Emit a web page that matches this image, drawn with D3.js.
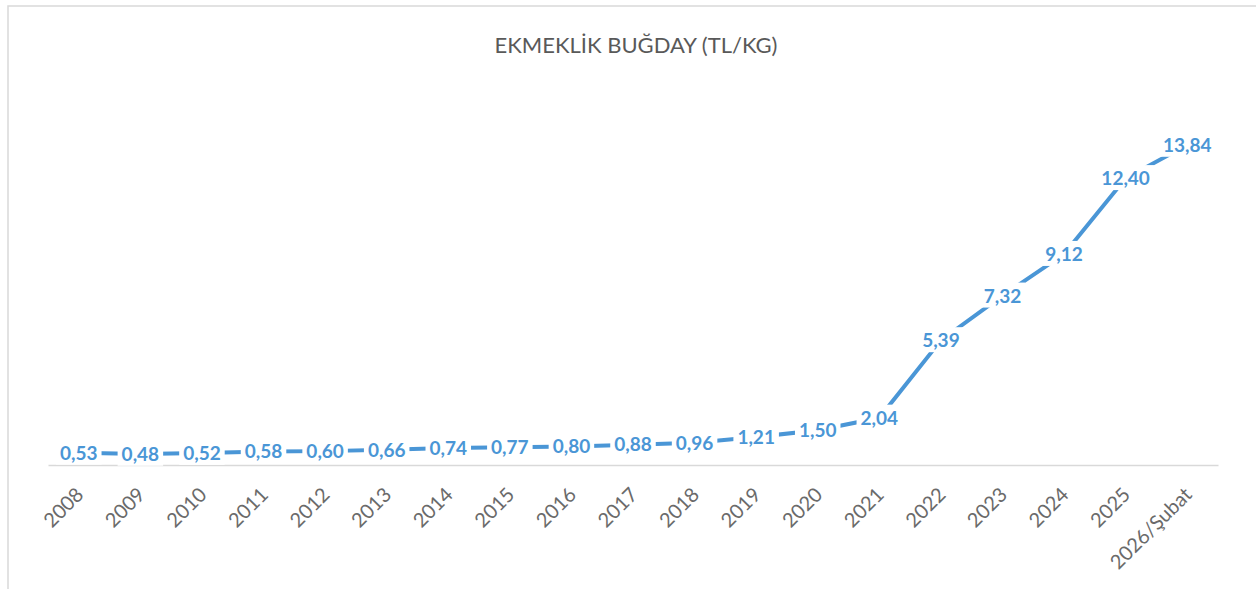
<!DOCTYPE html>
<html>
<head>
<meta charset="utf-8">
<script src="https://cdn.jsdelivr.net/npm/d3@7"></script>
<style>
  body { margin: 0; background: #fff; }
  svg { display: block; }
</style>
</head>
<body>
<svg id="chart" width="1256" height="589"></svg>
<script>
// data
var categories = ["2008", "2009", "2010", "2011", "2012", "2013", "2014", "2015", "2016", "2017",
  "2018", "2019", "2020", "2021", "2022", "2023", "2024", "2025", "2026/Şubat"];
var values = [0.53, 0.48, 0.52, 0.58, 0.60, 0.66, 0.74, 0.77, 0.80, 0.88,
  0.96, 1.21, 1.50, 2.04, 5.39, 7.32, 9.12, 12.40, 13.84];
var yDomain = [0, 16];
var title = "EKMEKLİK BUĞDAY (TL/KG)";

var blue = "#4a96d6";
var svg = d3.select("#chart");

// chart frame
svg.append("rect")
  .attr("x", 8).attr("y", 6)
  .attr("width", 1260).attr("height", 600)
  .attr("fill", "#fff")
  .attr("stroke", "#d9d9d9")
  .attr("stroke-width", 1.5);

svg.append("text")
  .attr("x", 636).attr("y", 53)
  .attr("text-anchor", "middle")
  .attr("font-family", "Lato")
  .attr("font-size", 22)
  .attr("fill", "#595959")
  .text(title);

var x = d3.scaleBand()
  .domain(categories)
  .range([48, 1218]);

var y = d3.scaleLinear()
  .domain(yDomain)
  .range([465, 95]);

function cx(d) { return x(d) + x.bandwidth() / 2; }

// x axis
var xAxis = svg.append("g")
  .attr("transform", "translate(0," + y(0) + ")")
  .call(d3.axisBottom(x).tickSize(0).tickPadding(0));
xAxis.select(".domain").attr("stroke", "#d9d9d9").attr("stroke-width", 1.5);
xAxis.selectAll("text")
  .attr("font-family", "Lato")
  .attr("font-size", 20)
  .attr("fill", "#6a6a6a")
  .attr("text-anchor", "end")
  .attr("dy", "0.35em")
  .attr("transform", "translate(1,26) rotate(-45)")
  .attr("x", 0).attr("y", 0);

// line
var line = d3.line()
  .x(function(d, i) { return cx(categories[i]); })
  .y(function(d) { return y(d); });

svg.append("path")
  .datum(values)
  .attr("d", line)
  .attr("fill", "none")
  .attr("stroke", blue)
  .attr("stroke-width", 4);

// data labels with white boxes
var lab = svg.selectAll(".lab")
  .data(values)
  .enter().append("g")
  .attr("class", "lab")
  .attr("transform", function(d, i) {
    return "translate(" + cx(categories[i]) + "," + y(d) + ")";
  });

lab.append("text")
  .attr("text-anchor", "middle")
  .attr("dy", "0.36em")
  .attr("font-family", "Lato")
  .attr("font-weight", "bold")
  .attr("font-size", 19)
  .attr("fill", blue)
  .text(function(d) { return d.toFixed(2).replace(".", ","); });

lab.each(function() {
  var g = d3.select(this);
  var bb = g.select("text").node().getBBox();
  g.insert("rect", "text")
    .attr("x", bb.x - 4).attr("y", bb.y - 1)
    .attr("width", bb.width + 8).attr("height", bb.height + 2)
    .attr("fill", "#fff");
});
</script>
</body>
</html>
